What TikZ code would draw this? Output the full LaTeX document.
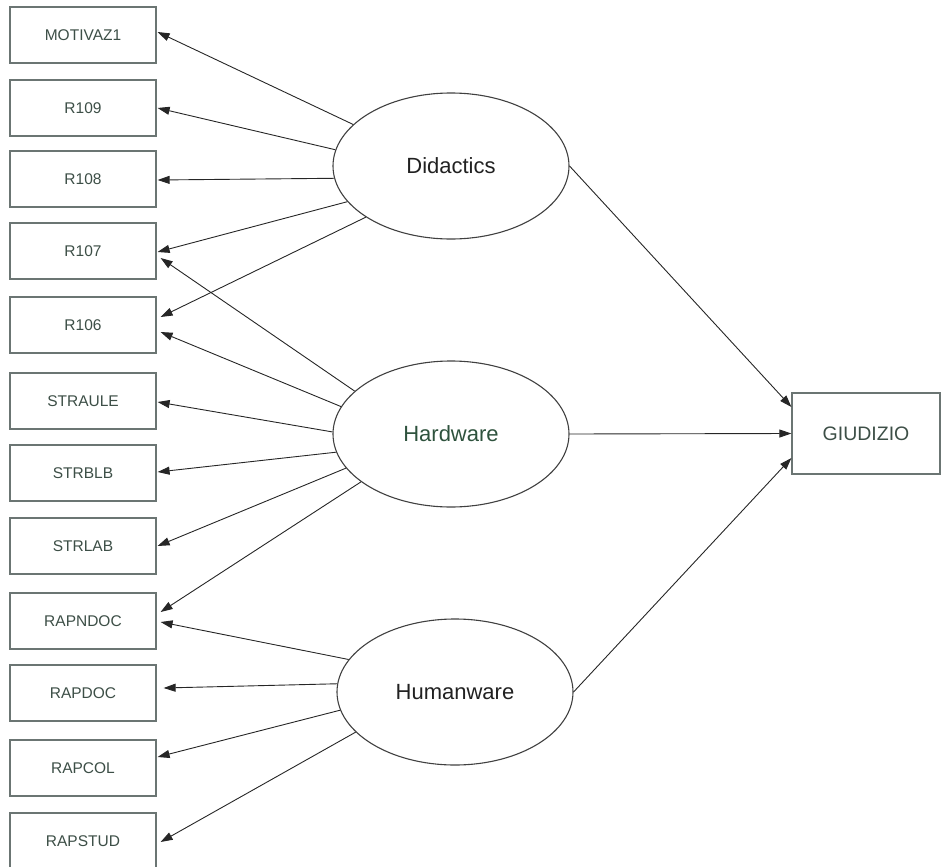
\documentclass[tikz,border=0pt]{standalone}
\usepackage{fontspec}
\setmainfont{Liberation Sans}
\usetikzlibrary{shapes.geometric,arrows.meta}
\definecolor{boxc}{rgb}{0.42,0.46,0.45}
\definecolor{boxtxt}{rgb}{0.24,0.31,0.28}
\definecolor{hwtxt}{rgb}{0.18,0.32,0.24}
\definecolor{elltxt}{rgb}{0.13,0.13,0.13}
\definecolor{ellc}{rgb}{0.25,0.25,0.25}
\begin{document}
\begin{tikzpicture}[x=1pt,y=1pt,
  obs/.style={draw=boxc, line width=1.2pt, minimum width=146pt, minimum height=56pt,
    inner sep=0pt, font=\fontsize{15.5}{18}\selectfont, text=boxtxt, fill=white},
  lat/.style={ellipse, draw=ellc, line width=1.1pt, minimum width=236pt,
    minimum height=146pt, inner sep=0pt, font=\fontsize{22}{26}\selectfont, text=elltxt},
  arr/.style={-{Triangle[length=12pt,width=8pt]}, line width=0.9pt, draw=black!85}]
\useasboundingbox (0,0) rectangle (942,-867);
% observed variables
\node[obs] (m1)  at (83,-35)  {MOTIVAZ1};
\node[obs] (r109) at (83,-108) {R109};
\node[obs] (r108) at (83,-179) {R108};
\node[obs] (r107) at (83,-251) {R107};
\node[obs] (r106) at (83,-325) {R106};
\node[obs] (sau) at (83,-401) {STRAULE};
\node[obs] (sbl) at (83,-473) {STRBLB};
\node[obs] (sla) at (83,-546) {STRLAB};
\node[obs] (rnd) at (83,-621) {RAPNDOC};
\node[obs] (rdo) at (83,-693) {RAPDOC};
\node[obs] (rco) at (83,-768) {RAPCOL};
\node[obs] (rst) at (83,-841) {RAPSTUD};
% latent variables
\node[lat] (D) at (451,-166) {Didactics};
\node[lat, text=hwtxt] (H) at (451,-434) {Hardware};
\node[lat] (U) at (455,-692) {Humanware};
% outcome
\node[obs, minimum width=148pt, minimum height=81pt, font=\fontsize{19.5}{22}\selectfont] (G) at (866,-433.5) {GIUDIZIO};
% Didactics
\draw[arr] (D.157.3) -- ([xshift=1pt,yshift=3pt]m1.east);
\draw[arr] (D.172.6) -- ([xshift=1pt]r109.east);
\draw[arr] (D.186.3) -- ([xshift=1pt,yshift=-1pt]r108.east);
\draw[arr] (D.199.1) -- ([xshift=1pt,yshift=-1pt]r107.east);
\draw[arr] (D.211.8) -- ([xshift=4pt,yshift=8pt]r106.east);
% Hardware
\draw[arr] (H.156.8) -- ([xshift=4pt,yshift=-7pt]r107.east);
\draw[arr] (H.166.8) -- ([xshift=4pt,yshift=-7pt]r106.east);
\draw[arr] (H.179) -- ([xshift=1pt,yshift=-1pt]sau.east);
\draw[arr] (H.189.4) -- ([xshift=1pt,yshift=1pt]sbl.east);
\draw[arr] (H.198.6) -- ([xshift=1pt]sla.east);
\draw[arr] (H.208.8) -- ([xshift=4pt,yshift=9pt]rnd.east);
% Humanware
\draw[arr] (U.163.5) -- ([xshift=4pt,yshift=-1pt]rnd.east);
\draw[arr] (U.176.1) -- ([xshift=7pt,yshift=5pt]rdo.east);
\draw[arr] (U.189.9) -- ([xshift=1pt,yshift=11pt]rco.east);
\draw[arr] (U.202.8) -- ([xshift=4pt,yshift=-1pt]rst.east);
% to GIUDIZIO
\draw[arr] (D.0) -- ([yshift=26.5pt]G.west);
\draw[arr] (H.0) -- (G.west);
\draw[arr] (U.0) -- ([yshift=-24.5pt]G.west);
\end{tikzpicture}
\end{document}
